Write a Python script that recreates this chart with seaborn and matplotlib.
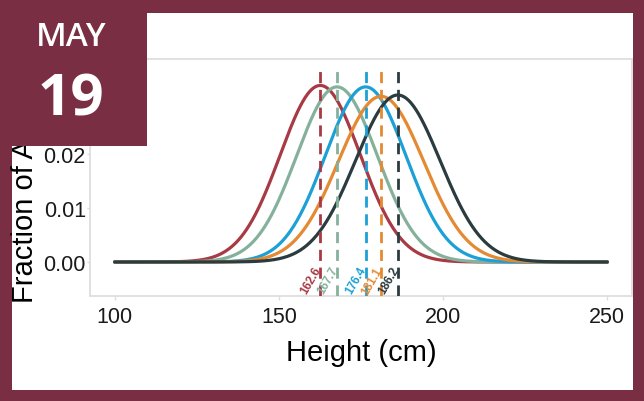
import numpy as np
import pandas as pd
import seaborn as sns
import matplotlib.pyplot as plt
from matplotlib.patches import Rectangle

# ------------------------------------------------------------------ data
groups = ["A", "B", "C", "D", "E"]
mean_heights = [162.6, 167.7, 176.4, 181.1, 186.2]
sd_heights = [12.2, 12.3, 12.3, 13.0, 12.9]
mean_labels = ["162.6", "167.7", "176.4", "181.1", "186.2"]
palette = ["#A83A45", "#85B19C", "#1CA0D6", "#E48A33", "#2B3C40"]
x_ticks = [100, 150, 200, 250]
y_ticks = [0.0, 0.01, 0.02]
y_tick_labels = ["0.00", "0.01", "0.02"]

MAROON = "#7A2E43"

height_grid = np.linspace(100, 250, 601)
frames = []
for g, m, s in zip(groups, mean_heights, sd_heights):
    dens = np.exp(-0.5 * ((height_grid - m) / s) ** 2) / (s * np.sqrt(2 * np.pi))
    frames.append(pd.DataFrame({"Height": height_grid, "Density": dens, "Group": g}))
df = pd.concat(frames, ignore_index=True)

# ------------------------------------------------------------------ style
sns.set_theme(style="white")
plt.rcParams["font.family"] = ["Liberation Sans", "DejaVu Sans"]

fig = plt.figure(figsize=(6.44, 4.02), dpi=100, facecolor=MAROON)

# white card behind the chart
fig.add_artist(Rectangle((12 / 644, 11 / 402), 621 / 644, 377 / 402,
                         transform=fig.transFigure, facecolor="white",
                         edgecolor="none", zorder=-5))

ax = fig.add_axes([90 / 644, 105 / 402, 542 / 644, 237 / 402])
ax.set_facecolor("white")

sns.lineplot(data=df, x="Height", y="Density", hue="Group", palette=palette,
             legend=False, linewidth=2.3, ax=ax)

ylim = (-0.0063, 0.0376)
ax.vlines(mean_heights, ylim[0], 0.0362, colors=palette, linewidth=2.0,
          linestyles=[(0, (4, 2.4))] * len(mean_heights), zorder=4)

for m, lab, c in zip(mean_heights, mean_labels, palette):
    ax.text(m - 0.6, -0.0010, lab, color=c, fontsize=8.5, fontweight="bold",
            rotation=60, rotation_mode="anchor", ha="right", va="center", zorder=5)

ax.set_xlim(92.5, 257.5)
ax.set_ylim(*ylim)
ax.set_xticks(x_ticks)
ax.set_yticks(y_ticks)
ax.set_yticklabels(y_tick_labels)
ax.tick_params(axis="both", labelsize=15.5, colors="#dddddd", labelcolor="#1a1a1a",
               length=3, width=1, pad=4, bottom=True, left=True)
ax.tick_params(axis="y", length=2, pad=1)
for sp in ax.spines.values():
    sp.set_color("#dedede")
    sp.set_linewidth(1.3)

ax.set_xlabel("Height (cm)", fontsize=21, color="black", labelpad=8)
ax.set_ylabel("Fraction of Adults", fontsize=21, color="black")
ax.yaxis.set_label_coords(-0.094, 0.452)

# date badge
fig.add_artist(Rectangle((0, 1 - 147 / 402), 147 / 644, 147 / 402,
                         transform=fig.transFigure, facecolor=MAROON,
                         edgecolor="none", zorder=10))
fig.text(71 / 644, 1 - 37 / 402, "MAY", color="white", fontsize=24, fontweight="semibold",
         family=["Open Sans", "DejaVu Sans"], ha="center", va="center", zorder=11)
fig.text(71 / 644, 1 - 100 / 402, "19", color="white", fontsize=42, fontweight="bold",
         family=["Open Sans", "DejaVu Sans"], ha="center", va="center", zorder=11)

fig.savefig("out.png", dpi=100, facecolor=MAROON)
